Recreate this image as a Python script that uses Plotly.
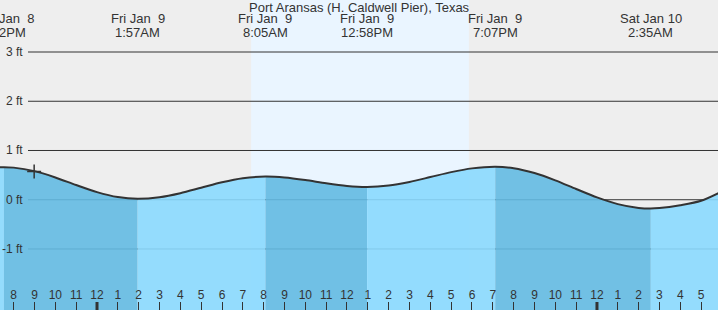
import plotly.graph_objects as go
import pandas as pd

station = "Port Aransas (H. Caldwell Pier), Texas"

# Tide curve (local time, height in ft)
curve_times = [
    "2026-01-08 19:00", "2026-01-08 19:32", "2026-01-08 20:00", "2026-01-08 21:00",
    "2026-01-08 22:00", "2026-01-08 23:00", "2026-01-09 00:00", "2026-01-09 01:00",
    "2026-01-09 01:57", "2026-01-09 03:00", "2026-01-09 04:00", "2026-01-09 05:00",
    "2026-01-09 06:00", "2026-01-09 07:00", "2026-01-09 08:05", "2026-01-09 09:00",
    "2026-01-09 10:00", "2026-01-09 11:00", "2026-01-09 12:00", "2026-01-09 12:58",
    "2026-01-09 14:00", "2026-01-09 15:00", "2026-01-09 16:00", "2026-01-09 17:00",
    "2026-01-09 18:00", "2026-01-09 19:07", "2026-01-09 20:00", "2026-01-09 21:00",
    "2026-01-09 22:00", "2026-01-09 23:00", "2026-01-10 00:00", "2026-01-10 01:00",
    "2026-01-10 02:00", "2026-01-10 02:35", "2026-01-10 03:00", "2026-01-10 04:00",
    "2026-01-10 05:00", "2026-01-10 06:00",
]
curve_heights = [
    0.655, 0.66, 0.652, 0.581,
    0.453, 0.299, 0.155, 0.054,
    0.02, 0.052, 0.133, 0.243,
    0.354, 0.436, 0.47, 0.452,
    0.400, 0.333, 0.280, 0.26,
    0.288, 0.361, 0.460, 0.561,
    0.637, 0.67, 0.641, 0.543,
    0.394, 0.218, 0.047, -0.089,
    -0.167, -0.18, -0.17, -0.11,
    -0.02, 0.17,
]

# High / low tide events
event_times = ["2026-01-08 19:32", "2026-01-09 01:57", "2026-01-09 08:05",
               "2026-01-09 12:58", "2026-01-09 19:07", "2026-01-10 02:35"]
event_dates = ["Thu Jan\u00a0 8", "Fri Jan\u00a0 9", "Fri Jan\u00a0 9",
               "Fri Jan\u00a0 9", "Fri Jan\u00a0 9", "Sat Jan 10"]
event_clock = ["7:32PM", "1:57AM", "8:05AM", "12:58PM", "7:07PM", "2:35AM"]

sunrise = "2026-01-09 07:24"
sunset = "2026-01-09 17:51"
now_time = ["2026-01-08 20:59"]
now_height = [0.574]

y_levels = [3, 2, 1, 0, -1]
y_labels = ["3 ft", "2 ft", "1 ft", "0 ft", "-1 ft"]

hour_ticks = pd.date_range("2026-01-08 20:00", "2026-01-10 05:00", freq="h")
hour_labels = [str((t.hour % 12) or 12) for t in hour_ticks]
midnights = ["2026-01-09 00:00", "2026-01-10 00:00"]

x_range = ["2026-01-08 19:20:36", "2026-01-10 05:48:36"]
y_range = [-2.239, 4.056]

W, H = 718, 310
INK = "#333333"
FILL_RISE = "rgba(137,217,254,0.9)"
FILL_FALL = "rgba(99,186,226,0.9)"

fig = go.Figure()

ct = pd.to_datetime(curve_times)
ch = pd.Series(curve_heights)
bounds = [ct[0]] + list(pd.to_datetime(event_times)) + [ct[-1]]
for a, b in zip(bounds[:-1], bounds[1:]):
    m = (ct >= a) & (ct <= b)
    sx = ct[m]
    sy = ch[m].tolist()
    if len(sx) < 2:
        continue
    color = FILL_FALL if sy[0] > sy[-1] else FILL_RISE
    fig.add_trace(go.Scatter(x=sx, y=[y_range[0] - 1] * len(sx), mode="lines",
                             line=dict(width=0, color="rgba(0,0,0,0)"),
                             hoverinfo="skip", showlegend=False))
    fig.add_trace(go.Scatter(x=sx, y=sy, mode="lines",
                             line=dict(width=0, color="rgba(0,0,0,0)", shape="spline", smoothing=0.8),
                             fill="tonexty", fillcolor=color,
                             hoverinfo="skip", showlegend=False))

fig.add_trace(go.Scatter(x=ct, y=curve_heights, mode="lines",
                         line=dict(color=INK, width=2, shape="spline", smoothing=0.8),
                         showlegend=False))
fig.add_trace(go.Scatter(x=now_time, y=now_height, mode="markers",
                         marker=dict(symbol="cross-thin", size=10,
                                     line=dict(color=INK, width=1.5)),
                         showlegend=False))

shapes = [dict(type="rect", xref="x", yref="paper", x0=sunrise, x1=sunset, y0=0, y1=1,
               fillcolor="#EAF5FF", line=dict(width=0), layer="below")]
for v in y_levels:
    shapes.append(dict(type="line", xref="paper", yref="y", x0=28 / W, x1=1, y0=v, y1=v,
                       line=dict(color=INK, width=1), layer="below"))
for mdn in midnights:
    shapes.append(dict(type="line", xref="x", yref="paper", x0=mdn, x1=mdn, y0=0, y1=8 / H,
                       line=dict(color=INK, width=3)))

ann = [dict(text=station, xref="paper", yref="paper", x=0.5, y=1 - 8 / H,
            xanchor="center", yanchor="middle", showarrow=False,
            font=dict(size=13, color=INK))]
for v, lab in zip(y_levels, y_labels):
    ann.append(dict(text=lab, xref="paper", yref="y", x=25 / W, y=v,
                    xanchor="right", yanchor="middle", showarrow=False,
                    font=dict(size=12, color=INK)))
for t, d, c in zip(event_times, event_dates, event_clock):
    ann.append(dict(text=d, xref="x", yref="paper", x=t, y=1 - 19 / H,
                    xanchor="center", yanchor="middle", showarrow=False,
                    font=dict(size=13, color=INK)))
    ann.append(dict(text=c, xref="x", yref="paper", x=t, y=1 - 32.5 / H,
                    xanchor="center", yanchor="middle", showarrow=False,
                    font=dict(size=13, color=INK)))

fig.update_layout(
    width=W, height=H, autosize=False,
    margin=dict(l=0, r=0, t=0, b=0, pad=0),
    paper_bgcolor="#EEEEEE", plot_bgcolor="#EEEEEE",
    font=dict(family="Liberation Sans, Arial, sans-serif", color=INK),
    showlegend=False,
    shapes=shapes, annotations=ann,
    xaxis=dict(type="date", range=x_range, showgrid=False, zeroline=False, showline=False,
               tickvals=list(hour_ticks), ticktext=hour_labels,
               ticks="inside", ticklen=8, tickwidth=1, tickcolor=INK,
               ticklabelposition="inside", tickfont=dict(size=12, color=INK),
               fixedrange=True),
    yaxis=dict(range=y_range, visible=False, fixedrange=True),
)

fig.write_html("out.html")
